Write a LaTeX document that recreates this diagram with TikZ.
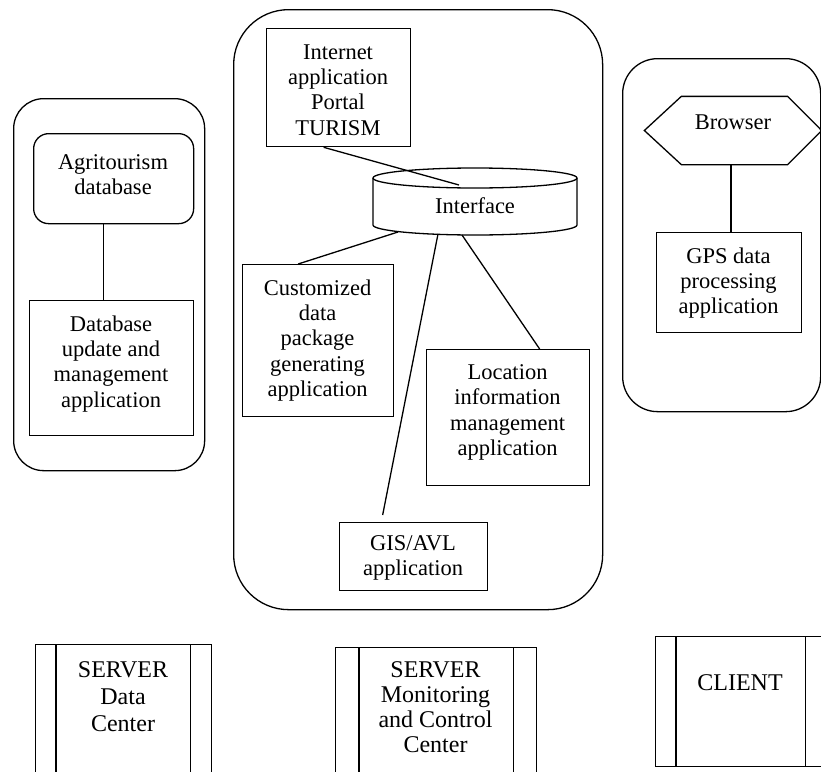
\documentclass[tikz,border=0pt]{standalone}
\usepackage{fontspec}
\setmainfont{Liberation Serif}
\usetikzlibrary{calc}
\begin{document}
\begin{tikzpicture}[x=1pt,y=1pt,line width=1.3pt,
  container/.style={draw, rectangle, rounded corners=#1, inner sep=0pt, anchor=north west},
  box/.style={draw, rectangle, inner sep=0pt, anchor=north west},
  txt/.style={align=center, inner sep=0pt, anchor=north, font=\fontsize{22.5}{25.3}\selectfont},
  btxt/.style={align=center, inner sep=0pt, anchor=north, font=\fontsize{24}{27}\selectfont},
]
\useasboundingbox (0,0) rectangle (821,-771);
\clip (0,0) rectangle (821,-771);

% left container
\node[container=30pt, minimum width=191pt, minimum height=372pt] (leftc) at (13,-98) {};
\node[box, rounded corners=15pt, minimum width=160pt, minimum height=90pt] (agri) at (33,-133) {};
\node[txt] (agritxt) at (113,-154) {Agritourism\\database};
\node[box, minimum width=164pt, minimum height=135pt] (dbupd) at (29,-300) {};
\node[txt] (dbtxt) at (111,-315) {Database\\update and\\management\\application};

% center container
\node[container=55pt, minimum width=369pt, minimum height=600pt] (centc) at (233,-9) {};
\node[box, minimum width=144pt, minimum height=118pt] (inet) at (266,-28) {};
\node[txt] (inettxt) at (338,-44) {Internet\\application\\Portal\\TURISM};
\draw (373,-178) -- (373,-225) arc[start angle=180, end angle=360, x radius=102pt, y radius=10pt] -- (577,-178);
\draw (475,-178) ellipse [x radius=102pt, y radius=10pt];
\node[txt] (iface) at (475,-197) {Interface};
\node[box, minimum width=151pt, minimum height=152pt] (cust) at (242,-264) {};
\node[txt] (custtxt) at (317.5,-279) {Customized\\data\\package\\generating\\application};
\node[box, minimum width=163pt, minimum height=136pt] (loc) at (426,-349) {};
\node[txt] (loctxt) at (507.5,-364) {Location\\information\\management\\application};
\node[box, minimum width=148pt, minimum height=68pt] (gis) at (339,-522) {};
\node[txt] (gistxt) at (413,-535) {GIS/AVL\\application};

% right container
\node[container=35pt, minimum width=198pt, minimum height=353pt] (rightc) at (622,-58) {};
\node[draw=none, rectangle, inner sep=0pt, minimum width=176pt, minimum height=67pt] (brw) at (733,-130.5) {};
\draw (brw.west) -- ([xshift=37pt]brw.north west) -- ([xshift=-34pt]brw.north east) -- (brw.east)
  -- ([xshift=-34pt]brw.south east) -- ([xshift=37pt]brw.south west) -- cycle;
\node[txt] (brwtxt) at (733,-114) {Browser};
\node[box, minimum width=145pt, minimum height=100pt] (gps) at (656,-232) {};
\node[txt] (gpstxt) at (728.5,-247) {GPS data\\processing\\application};

% bottom boxes
\node[box, minimum width=176pt, minimum height=160pt] (s1) at (35,-644) {};
\draw ([xshift=21pt]s1.north west) -- ([xshift=21pt]s1.south west);
\draw ([xshift=-22pt]s1.north east) -- ([xshift=-22pt]s1.south east);
\node[btxt] (s1txt) at (123,-661) {SERVER\\Data\\Center};

\node[box, minimum width=201pt, minimum height=160pt] (s2) at (335,-647) {};
\draw ([xshift=24pt]s2.north west) -- ([xshift=24pt]s2.south west);
\draw ([xshift=-24pt]s2.north east) -- ([xshift=-24pt]s2.south east);
\node[btxt, font=\fontsize{24}{25}\selectfont] (s2txt) at (435.5,-661) {SERVER\\Monitoring\\and Control\\Center};

\node[box, minimum width=170pt, minimum height=130pt] (cl) at (655,-636) {};
\draw ([xshift=21pt]cl.north west) -- ([xshift=21pt]cl.south west);
\draw ([xshift=-21pt]cl.north east) -- ([xshift=-21pt]cl.south east);
\node[btxt] (cltxt) at (740,-674) {CLIENT};

% connectors
\coordinate (ifIn) at (459,-185);
\coordinate (ifC) at (398,-232);
\coordinate (ifG) at (438,-234);
\coordinate (ifL) at (462,-235);
\coordinate (gisEnd) at ([xshift=-31pt,yshift=7pt]gis.north);
\draw ([xshift=-10pt]agri.south) -- ([xshift=-10pt]agri.south |- dbupd.north);
\draw ([xshift=-15pt]inet.south) -- (ifIn);
\draw (ifC) -- ([xshift=-20pt]cust.north);
\draw (ifG) -- (gisEnd);
\draw (ifL) -- ([xshift=31.5pt]loc.north);
\draw ([xshift=-2pt]brw.south) -- ([xshift=-2pt]brw.south |- gps.north);
\end{tikzpicture}
\end{document}
